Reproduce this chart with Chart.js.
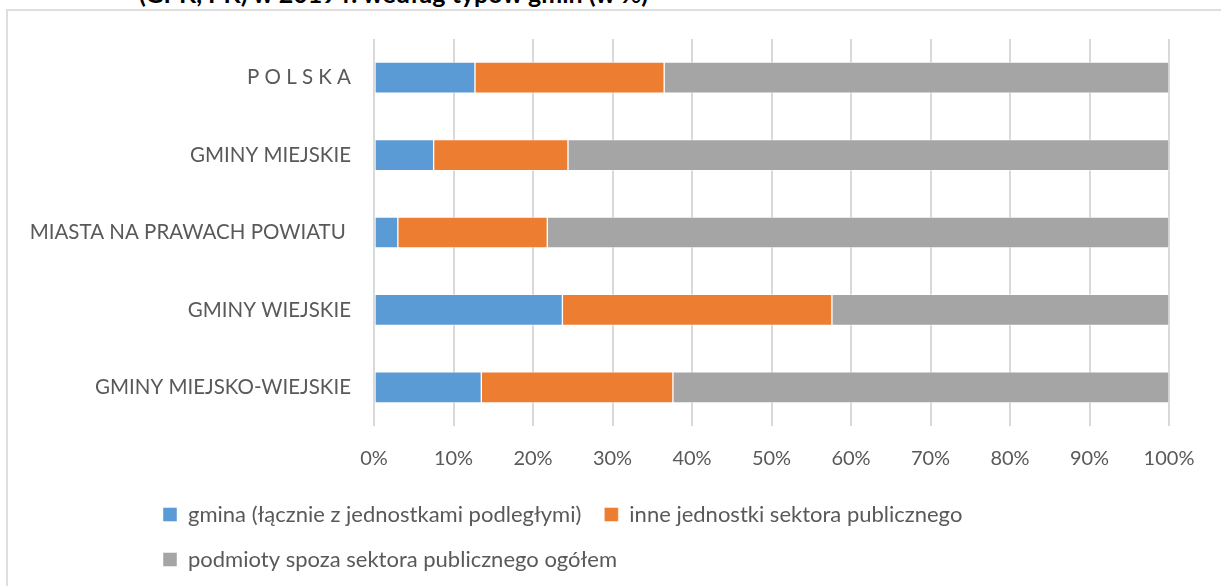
<!DOCTYPE html>
<html lang="pl">
<head>
<meta charset="utf-8">
<title>Wykres - typy gmin</title>
<script src="https://cdn.jsdelivr.net/npm/chart.js@4"></script>
<style>
    html, body { margin: 0; padding: 0; background: #fff; overflow: hidden; }
    body { width: 1221px; height: 586px; position: relative; }
    .tytul {
        position: absolute; left: 139px; top: -19px;
        font: bold 25px Lato, sans-serif; line-height: 25px; color: #000;
        white-space: nowrap;
    }
    .ramka {
        position: absolute; left: 6px; top: 9px; width: 1400px; height: 700px;
        border: 2px solid #dedede;
    }
    .wykres { position: absolute; left: 0; top: 0; width: 1221px; height: 586px; }
</style>
</head>
<body>
<div class="tytul">(GPK, PK) w 2019 r. według typów gmin (w %)</div>
<div class="ramka"></div>
<div class="wykres"><canvas id="chart"></canvas></div>
<script>
// dane (w %)
const categories = ['P O L S K A', 'GMINY MIEJSKIE', 'MIASTA NA PRAWACH POWIATU ', 'GMINY WIEJSKIE', 'GMINY MIEJSKO-WIEJSKIE'];
const gminaValues = [12.7, 7.5, 3.0, 23.7, 13.5];
const inneValues = [23.8, 16.9, 18.8, 33.9, 24.1];
const spozaValues = [63.5, 75.6, 78.2, 42.4, 62.4];
const tickLabels = ['0%', '10%', '20%', '30%', '40%', '50%', '60%', '70%', '80%', '90%', '100%'];

const FONT = 'Lato, sans-serif';
const TEXT_COLOR = '#595959';

// przesuwa legende w miejsce jak na oryginale
const legendPlacer = {
    id: 'legendPlacer',
    afterLayout: (chart) => {
        chart.legend.left = 140;
        chart.legend.top = 480.5;
    }
};

const makeSet = (label, data, color) => ({
    label: label,
    data: data,
    backgroundColor: color,
    borderColor: 'rgba(255,255,255,0.45)',
    borderWidth: 1,
    borderSkipped: false,
    barThickness: 31
});

new Chart(document.getElementById('chart'), {
    type: 'bar',
    data: {
        labels: categories,
        datasets: [
            makeSet('gmina (łącznie z jednostkami podległymi)', gminaValues, '#5b9bd5'),
            makeSet('inne jednostki sektora publicznego', inneValues, '#ed7d31'),
            makeSet('podmioty spoza sektora publicznego ogółem', spozaValues, '#a5a5a5')
        ]
    },
    options: {
        indexAxis: 'y',
        responsive: true,
        maintainAspectRatio: false,
        animation: false,
        layout: { padding: { top: 39, right: 52, left: 0, bottom: 15 } },
        plugins: {
            tooltip: { enabled: false },
            legend: {
                position: 'bottom',
                align: 'start',
                labels: {
                    boxWidth: 14,
                    boxHeight: 14,
                    padding: 23,
                    color: TEXT_COLOR,
                    font: { family: FONT, size: 22 }
                }
            }
        },
        scales: {
            x: {
                stacked: true,
                min: 0,
                max: 100,
                ticks: {
                    stepSize: 10,
                    padding: 21,
                    color: TEXT_COLOR,
                    font: { family: FONT, size: 20 },
                    callback: (v, i) => tickLabels[i]
                },
                grid: { color: '#d9d9d9', lineWidth: 2, drawTicks: false },
                border: { display: false },
                afterFit: (s) => { s.height = 45; }
            },
            y: {
                stacked: true,
                ticks: {
                    padding: 23,
                    color: TEXT_COLOR,
                    font: { family: FONT, size: 20.5 }
                },
                grid: { display: false, drawTicks: false },
                border: { display: false },
                afterFit: (s) => { s.width = 374; }
            }
        }
    },
    plugins: [legendPlacer]
});
</script>
</body>
</html>
